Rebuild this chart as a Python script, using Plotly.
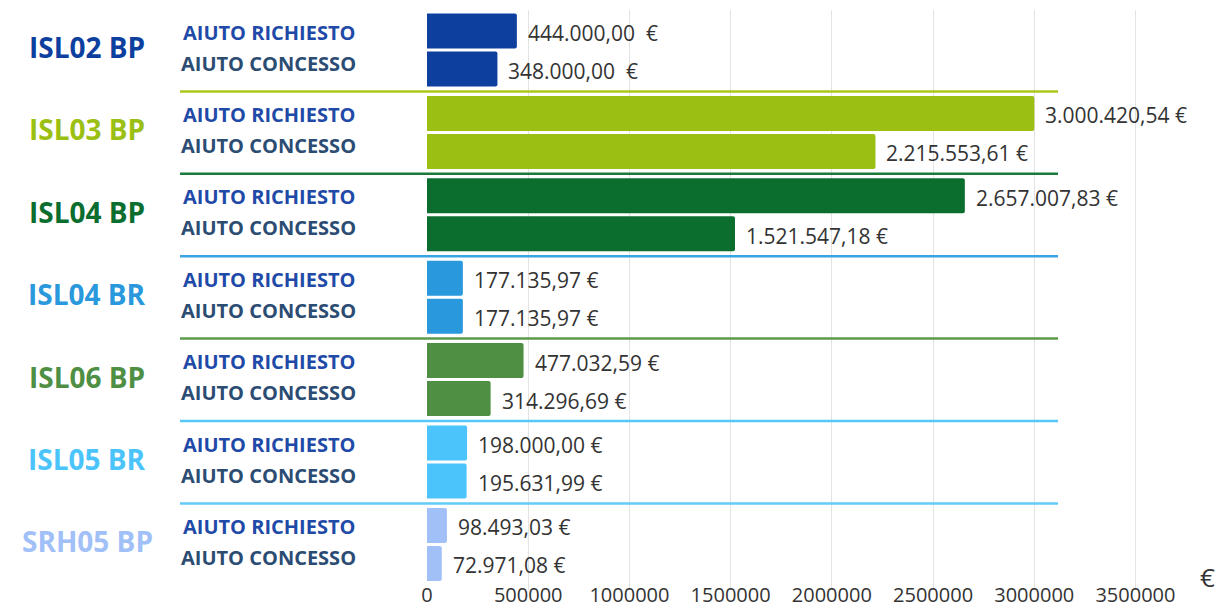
import plotly.graph_objects as go

projects = ["ISL02 BP", "ISL03 BP", "ISL04 BP", "ISL04 BR", "ISL06 BP", "ISL05 BR", "SRH05 BP"]
richiesto = [444000.00, 3000420.54, 2657007.83, 177135.97, 477032.59, 198000.00, 98493.03]
concesso = [348000.00, 2215553.61, 1521547.18, 177135.97, 314296.69, 195631.99, 72971.08]
rich_labels = ["444.000,00  €", "3.000.420,54 €", "2.657.007,83 €", "177.135,97 €",
               "477.032,59 €", "198.000,00 €", "98.493,03 €"]
conc_labels = ["348.000,00  €", "2.215.553,61 €", "1.521.547,18 €", "177.135,97 €",
               "314.296,69 €", "195.631,99 €", "72.971,08 €"]
colors = ["#0d3f9f", "#9bbf13", "#0b6e2f", "#2a98dc", "#4f8f44", "#4bc4fb", "#a0c0f7"]
sep_colors = [None, "#a8c81a", "#1b7a3a", "#3aa3e3", "#5a9a4a", "#55c8f8", "#62cbf8"]
x_ticks = [0, 500000, 1000000, 1500000, 2000000, 2500000, 3000000, 3500000]
sub_labels = ["AIUTO RICHIESTO", "AIUTO CONCESSO"]

FONT = "Open Sans"
PITCH = 82.4
TOP = 31
INNER = 38

xs, ys, cols = [], [], []
for g in range(len(projects)):
    yr = TOP + g * PITCH
    xs += [richiesto[g], concesso[g]]
    ys += [yr, yr + INNER]
    cols += [colors[g], colors[g]]

fig = go.Figure()
fig.add_trace(go.Bar(
    x=xs, y=ys, orientation="h", width=35,
    marker=dict(color=cols, line=dict(width=0), cornerradius=2),
    hoverinfo="skip", showlegend=False,
))

annotations = []
shapes = []
for g, p in enumerate(projects):
    yr = TOP + g * PITCH
    yc = yr + INNER
    mid = (yr + yc) / 2
    # project label
    annotations.append(dict(x=-0.451, y=mid - 3, xref="paper", yref="y", text=f"<b>{p}</b>",
                            showarrow=False, xanchor="center", yanchor="middle",
                            font=dict(family=FONT, size=28, color=colors[g])))
    annotations.append(dict(x=-0.21, y=mid - 18, xref="paper", yref="y", text=f"<b>{sub_labels[0]}</b>",
                            showarrow=False, xanchor="center", yanchor="middle",
                            font=dict(family=FONT, size=20, color="#1f4aa8")))
    annotations.append(dict(x=-0.21, y=mid + 13, xref="paper", yref="y", text=f"<b>{sub_labels[1]}</b>",
                            showarrow=False, xanchor="center", yanchor="middle",
                            font=dict(family=FONT, size=20, color="#2b4c73")))
    # value labels
    annotations.append(dict(x=richiesto[g], y=yr, xref="x", yref="y", text=rich_labels[g],
                            showarrow=False, xanchor="left", yanchor="middle", xshift=9, yshift=-2,
                            font=dict(family=FONT, size=21, color="#333333")))
    annotations.append(dict(x=concesso[g], y=yc, xref="x", yref="y", text=conc_labels[g],
                            showarrow=False, xanchor="left", yanchor="middle", xshift=9, yshift=-2,
                            font=dict(family=FONT, size=21, color="#333333")))
    if sep_colors[g]:
        shapes.append(dict(type="line", xref="paper", yref="y", x0=-0.328, x1=0.838,
                           y0=yr - 22, y1=yr - 22, line=dict(color=sep_colors[g], width=2.5)))

annotations.append(dict(x=1.036, y=577, xref="paper", yref="y", text="€", showarrow=False,
                        xanchor="center", yanchor="middle",
                        font=dict(family=FONT, size=26, color="#333333")))

fig.update_layout(
    width=1219, height=610,
    margin=dict(l=427, r=39, t=10, b=20, autoexpand=False),
    paper_bgcolor="white", plot_bgcolor="white",
    annotations=annotations, shapes=shapes,
    xaxis=dict(range=[0, 3720000], tickvals=x_ticks, ticktext=[str(v) for v in x_ticks],
               showgrid=True, gridcolor="#e3e3e3", gridwidth=1, zeroline=False, automargin=False,
               tickfont=dict(family=FONT, size=20, color="#333333"), ticks="", showline=False,
               ticklabelstandoff=-9),
    yaxis=dict(range=[590, 10], showticklabels=False, showgrid=False, zeroline=False,
               showline=False, automargin=False),
    font=dict(family=FONT),
)

fig.write_html("out.html", config={"displayModeBar": False},
               post_script="document.body.style.margin='0';document.body.style.overflow='hidden';")
